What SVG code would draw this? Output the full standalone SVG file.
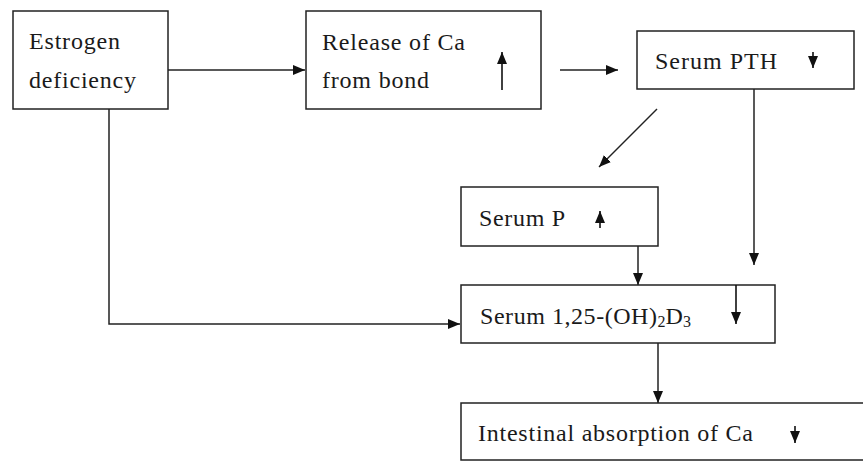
<svg xmlns="http://www.w3.org/2000/svg" width="863" height="462" viewBox="0 0 863 462">
<defs>
<marker id="ah" markerUnits="userSpaceOnUse" markerWidth="13" markerHeight="11" refX="12" refY="5" orient="auto">
<path d="M0,0 L12,5 L0,10 z" fill="#111"/>
</marker>
<marker id="ih" markerUnits="userSpaceOnUse" markerWidth="13" markerHeight="11" refX="12" refY="5" orient="auto">
<path d="M0,0 L12,5 L0,10 z" fill="#111"/>
</marker>
<style>
rect.box{fill:#fff;stroke:#222;stroke-width:1.5}
.t{font-family:"Liberation Serif","Times New Roman",serif;font-size:24px;fill:#1a1a1a}
.c{fill:none;stroke:#222;stroke-width:1.5;marker-end:url(#ah)}
.ind{fill:none;stroke:#111;stroke-width:1.6;marker-end:url(#ih)}
</style>
</defs>
<rect width="863" height="462" fill="#fff"/>
<g id="connectors">
<line class="c" x1="168" y1="70" x2="305" y2="70"/>
<line class="c" x1="560" y1="70" x2="618" y2="70"/>
<line class="c" x1="657" y1="109" x2="599" y2="167"/>
<line class="c" x1="754" y1="89" x2="754" y2="265"/>
<line class="c" x1="638" y1="246" x2="638" y2="285"/>
<polyline class="c" points="109,109 109,324 460,324"/>
<line class="c" x1="658" y1="343" x2="658" y2="403"/>
</g>
<g id="estrogen">
<rect class="box" x="13" y="11" width="155" height="98"/>
<text class="t" x="29" y="49" textLength="91" lengthAdjust="spacing">Estrogen</text>
<text class="t" x="29" y="88" textLength="107" lengthAdjust="spacing">deficiency</text>
</g>
<g id="release">
<rect class="box" x="306" y="11" width="235" height="98"/>
<text class="t" x="322" y="50" textLength="143" lengthAdjust="spacing">Release of Ca</text>
<text class="t" x="322" y="88" textLength="107" lengthAdjust="spacing">from bond</text>
<line class="ind" x1="502" y1="90" x2="502" y2="52"/>
</g>
<g id="pth">
<rect class="box" x="637" y="31" width="217" height="58"/>
<text class="t" x="655" y="69" textLength="122" lengthAdjust="spacing">Serum PTH</text>
<line class="ind" x1="813" y1="52" x2="813" y2="68"/>
</g>
<g id="serump">
<rect class="box" x="461" y="187" width="197" height="59"/>
<text class="t" x="479" y="226" textLength="86" lengthAdjust="spacing">Serum P</text>
<line class="ind" x1="600" y1="228" x2="600" y2="211"/>
</g>
<g id="vitd">
<rect class="box" x="461" y="285" width="314" height="58"/>
<text class="t" x="480" y="324"><tspan textLength="177" lengthAdjust="spacing">Serum 1,25-(OH)</tspan><tspan font-size="16" dy="3">2</tspan><tspan dy="-3">D</tspan><tspan font-size="16" dy="3">3</tspan></text>
<line class="ind" x1="736" y1="285" x2="736" y2="324"/>
</g>
<g id="intestinal">
<rect class="box" x="461" y="403" width="410" height="57"/>
<text class="t" x="478" y="441" textLength="275" lengthAdjust="spacing">Intestinal absorption of Ca</text>
<line class="ind" x1="795" y1="426" x2="795" y2="443"/>
</g>
</svg>
